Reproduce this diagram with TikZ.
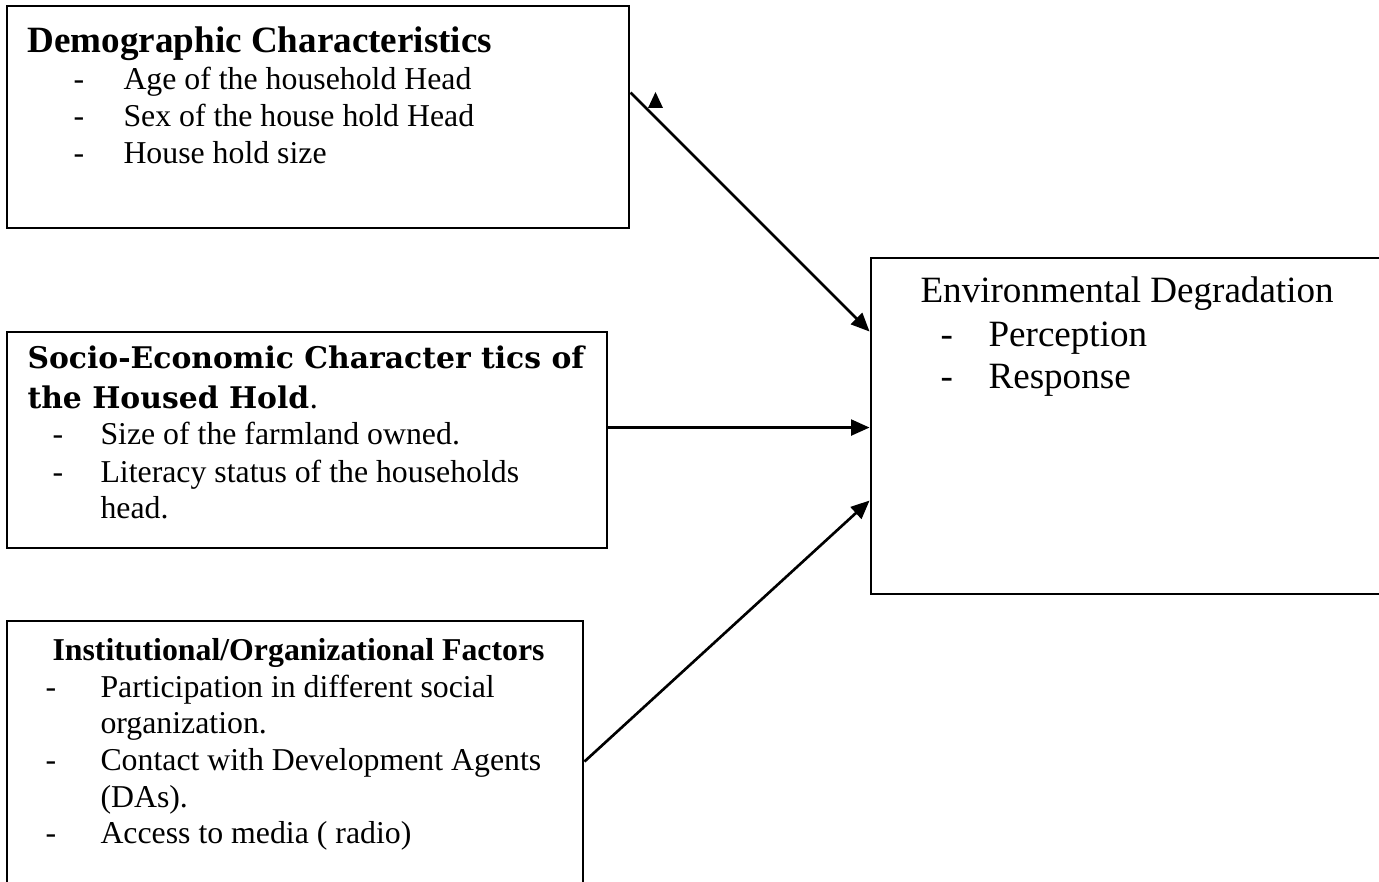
\documentclass[tikz,border=0pt]{standalone}
\usepackage{fontspec}
\setmainfont{Liberation Serif}
\newfontfamily\slabfont{DejaVu Serif}
\usetikzlibrary{arrows.meta,calc,fit}
\begin{document}
\begin{tikzpicture}[x=0.37736pt,y=-0.37736pt,
  box/.style={draw,line width=1.1pt,inner sep=0pt},
  arr/.style={line width=1pt,-{Triangle[length=7pt,width=6pt]}},
  txt/.style={anchor=base west,inner sep=0pt,font=\fontsize{12}{14}\selectfont},
  bigtxt/.style={anchor=base west,inner sep=0pt,font=\fontsize{14}{16}\selectfont},
  ttl/.style={anchor=base west,inner sep=0pt,font=\fontsize{14}{16}\selectfont\bfseries},
  ttlsm/.style={anchor=base west,inner sep=0pt,font=\fontsize{12}{14}\selectfont\bfseries},
  slab/.style={anchor=base west,inner sep=0pt,font=\fontsize{11.25}{13}\selectfont\slabfont\bfseries}]
\useasboundingbox (0,0) rectangle (1379,882);
\clip (0,0) rectangle (1379,882);
% boxes
\node[box,fit={(7,6)(629,228)}] (A) {};
\node[box,fit={(7,332)(607,548)}] (B) {};
\node[box,fit={(7,621)(583,920)}] (C) {};
\node[box,fit={(871,258)(1420,594)}] (D) {};
% box A text
\node[ttl] (At) at (27,53) {Demographic Characteristics};
\node[txt] (Ad1) at (73,90) {-};
\node[txt] (Ai1) at (123,90) {Age of the household Head};
\node[txt] (Ad2) at (73,127) {-};
\node[txt] (Ai2) at (123,127) {Sex of the house hold Head};
\node[txt] (Ad3) at (73,164) {-};
\node[txt] (Ai3) at (123,164) {House hold size};
% box B text
\node[slab] (Bt1) at (27,369) {Socio-Economic Character tics of};
\node[slab] (Bt2) at (27,409) {the Housed Hold{\mdseries .}};
\node[txt] (Bd1) at (52,445) {-};
\node[txt] (Bi1) at (100,445) {Size of the farmland owned.};
\node[txt] (Bd2) at (52,482) {-};
\node[txt] (Bi2) at (100,482) {Literacy status of the households};
\node[txt] (Bi3) at (100,518) {head.};
% box C text
\node[ttlsm] (Ct) at (52,660) {Institutional/Organizational Factors};
\node[txt] (Cd1) at (45,697) {-};
\node[txt] (Ci1) at (100,697) {Participation in different social};
\node[txt] (Ci2) at (100,733) {organization.};
\node[txt] (Cd2) at (45,770) {-};
\node[txt] (Ci3) at (100,770) {Contact with Development Agents};
\node[txt] (Ci4) at (100,807) {(DAs).};
\node[txt] (Cd3) at (45,843) {-};
\node[txt] (Ci5) at (100,843) {Access to media ( radio)};
% box D text
\node[bigtxt] (Dt) at (920,303) {Environmental Degradation};
\node[bigtxt] (Dd1) at (940,347) {-};
\node[bigtxt] (Di1) at (988,347) {Perception};
\node[bigtxt] (Dd2) at (940,388) {-};
\node[bigtxt] (Di2) at (988,388) {Response};
% connectors
\coordinate (a1) at ($(A.north east)+(0,88)$);
\coordinate (d1) at ($(D.north west)+(0,75)$);
\draw[arr] (a1) -- (d1);
\coordinate (b1) at ($(B.north east)+(0,97)$);
\draw[arr] (b1) -- (b1 -| D.west);
\coordinate (c1) at ($(C.north east)+(0,142)$);
\coordinate (d3) at ($(D.north west)+(0,244)$);
\draw[arr] (c1) -- (d3);
% stray arrowhead
\fill (648,108) -- (655.5,92) -- (663,108) -- cycle;
\end{tikzpicture}
\end{document}
